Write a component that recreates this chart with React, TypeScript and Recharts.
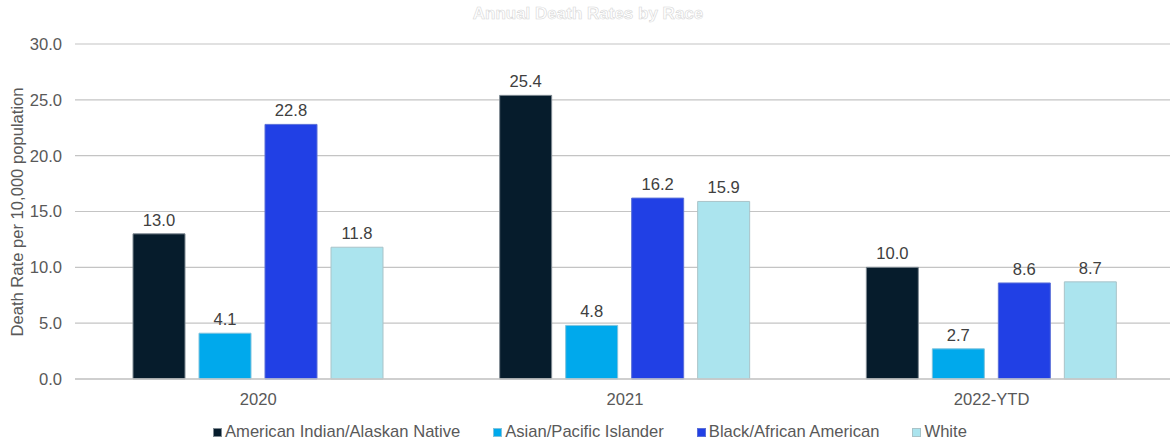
import React from "react";
import {
  BarChart,
  Bar,
  XAxis,
  YAxis,
  CartesianGrid,
  LabelList,
  Label,
} from "recharts";

// Annual death rates per 10,000 population, by race
const years = ["2020", "2021", "2022-YTD"];
const americanIndian = [13.0, 25.4, 10.0];
const asianPacific = [4.1, 4.8, 2.7];
const blackAfrican = [22.8, 16.2, 8.6];
const white = [11.8, 15.9, 8.7];
const yTicks = [0, 5, 10, 15, 20, 25, 30];

const series = [
  { key: "aian", name: "American Indian/Alaskan Native", color: "#061c2c", border: "#7f8a92" },
  { key: "api", name: "Asian/Pacific Islander", color: "#00a9ec", border: "#7fc3dd" },
  { key: "black", name: "Black/African American", color: "#2140e5", border: "#5a6fd8" },
  { key: "white", name: "White", color: "#abe4ee", border: "#a9c3c8" },
];

const chartData = years.map((year, i) => ({
  year,
  aian: americanIndian[i],
  api: asianPacific[i],
  black: blackAfrican[i],
  white: white[i],
}));

const FONT = '"Liberation Sans", Arial, sans-serif';
const FS = 16.6;

export default function App() {
  return (
    <div
      style={{
        position: "absolute",
        top: 0,
        left: 0,
        width: 1170,
        height: 442,
        overflow: "hidden",
        background: "#ffffff",
        fontFamily: FONT,
      }}
    >
      <div
        style={{
          position: "absolute",
          top: 4,
          left: 0,
          width: 1176,
          textAlign: "center",
          fontSize: 17,
          fontWeight: "bold",
          color: "#ffffff",
          WebkitTextStroke: "0.6px #d6d6d6",
        }}
      >
        Annual Death Rates by Race
      </div>
      <div style={{ position: "absolute", top: 0, left: 0 }}>
        <BarChart
          width={1175}
          height={442}
          data={chartData}
          margin={{ top: 44, right: 0, bottom: 33, left: 0 }}
          barCategoryGap={58}
          barGap={14}
        >
          <CartesianGrid vertical={false} stroke="#c4c4c4" strokeWidth={1.2} />
          <XAxis
            dataKey="year"
            axisLine={{ stroke: "#c8c8c8", strokeWidth: 1.5 }}
            tickLine={false}
            tickSize={0}
            tickMargin={14}
            height={30}
            tick={{ fill: "#595959", fontSize: FS, fontFamily: FONT }}
          />
          <YAxis
            domain={[0, 30]}
            ticks={yTicks}
            width={75}
            axisLine={false}
            tickLine={false}
            tickSize={0}
            tickMargin={13}
            tickFormatter={(v: number) => v.toFixed(1)}
            tick={{ fill: "#595959", fontSize: FS, fontFamily: FONT }}
          >
            <Label
              content={() => (
                <text
                  x={17}
                  y={212}
                  transform="rotate(-90, 17, 212)"
                  textAnchor="middle"
                  dominantBaseline="central"
                  fill="#595959"
                  fontSize={FS}
                  fontFamily={FONT}
                >
                  Death Rate per 10,000 population
                </text>
              )}
            />
          </YAxis>
          {series.map((s) => (
            <Bar
              key={s.key}
              dataKey={s.key}
              name={s.name}
              fill={s.color}
              stroke={s.border}
              strokeWidth={1}
              isAnimationActive={false}
            >
              <LabelList
                dataKey={s.key}
                position="top"
                offset={8}
                formatter={(v: number) => v.toFixed(1)}
                style={{ fill: "#404040", fontSize: FS, fontFamily: FONT }}
              />
            </Bar>
          ))}
        </BarChart>
      </div>
      <div
        style={{
          position: "absolute",
          top: 422,
          left: 213,
          display: "flex",
          alignItems: "center",
          fontSize: FS,
          color: "#595959",
          whiteSpace: "nowrap",
        }}
      >
        {series.map((s) => (
          <div
            key={s.key}
            style={{ display: "flex", alignItems: "center", marginRight: 33 }}
          >
            <span
              style={{
                display: "inline-block",
                width: 9,
                height: 9,
                background: s.color,
                border: `1px solid ${s.border}`,
                boxSizing: "border-box",
                marginRight: 3,
              }}
            />
            <span>{s.name}</span>
          </div>
        ))}
      </div>
    </div>
  );
}
